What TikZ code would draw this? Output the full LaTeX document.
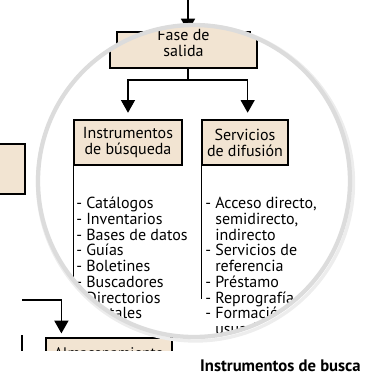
\documentclass[tikz,border=0pt]{standalone}
\usepackage{fontspec}
\setmainfont{PT Sans}
\usetikzlibrary{arrows.meta}
\definecolor{beige}{HTML}{F2E4D2}
\definecolor{aro}{HTML}{DCDCDC}

\tikzset{
  caja/.style={draw=black, line width=0.9pt, fill=beige, align=center, inner sep=0pt,
    font=\fontsize{12}{12}\selectfont},
  lista/.style={align=left, inner sep=0pt, anchor=north west,
    font=\fontsize{12}{11.8}\selectfont},
  flecha/.style={line width=0.9pt, -{Triangle[length=9.5pt,width=10.5pt]}},
  linea/.style={line width=0.9pt},
}

\begin{document}
\begin{tikzpicture}[x=0.75pt,y=0.75pt,yscale=-1]
\useasboundingbox (0,0) rectangle (371,376);

% esquema sin aumentar
\begin{scope}
\clip (0,0) rectangle (371,350);
\node[caja, minimum width=22.5pt, minimum height=37.5pt] (izq) at (10,169) {};
\node[caja, minimum width=99.75pt, minimum height=36pt] (fasepeq) at (183.5,56) {};
\node[caja, minimum width=94.5pt, minimum height=22.5pt, font=\fontsize{11.5}{11}\selectfont] (alm) at (109,353) {Almacenamiento};
\coordinate (entrada) at (188,-2);
\draw[flecha] (entrada) -- (entrada |- fasepeq.north);
\coordinate (vuelta) at (22,300);
\draw[flecha, shorten >=3pt] (vuelta) -| ([xshift=12pt]alm.north west);
\draw[linea] (22,335) -- (22,352);
\end{scope}

% lupa
\draw[black!7, line width=2.5pt] (195.5,183) circle[radius=158];
\begin{scope}
\fill[white] (194,181) circle[radius=156];
\clip (194,181) circle[radius=156];
\node[caja, minimum width=110.25pt, minimum height=37.5pt] (fase) at (183.5,43) {Fase de\\salida};
\node[caja, minimum width=81pt, minimum height=33.75pt] (instr) at (128,142.5) {Instrumentos\\de búsqueda};
\node[caja, minimum width=64.5pt, minimum height=33.75pt] (serv) at (245,142.5) {Servicios\\de difusión};
\coordinate (rama) at (188,80);
\draw[linea] (rama |- fase.south) -- (rama);
\draw[flecha, shorten >=5pt] (rama) -| (instr.north);
\draw[flecha, shorten >=5pt] (rama) -| ([xshift=2pt]serv.north);
\draw[linea] (instr.south west) -- ++(0,122);
\draw[linea] (serv.south west) -- ++(0,133);
\node[lista] (listaA) at (76,197) {- Catálogos\\- Inventarios\\- Bases de datos\\- Guías\\- Boletines\\- Buscadores\\- Directorios\\- Portales};
\node[lista] (listaB) at (205,197) {- Acceso directo,\\\hphantom{- }semidirecto,\\\hphantom{- }indirecto\\- Servicios de\\\hphantom{- }referencia\\- Préstamo\\- Reprografía\\- Formación de\\\hphantom{- }usuarios};
\end{scope}
\draw[aro, line width=3.2pt] (194,181) circle[radius=156];

\node[anchor=east, inner sep=0pt, font=\bfseries\fontsize{12.5}{12}\selectfont] (pie) at (361,366) {Instrumentos de busca};
\end{tikzpicture}
\end{document}
